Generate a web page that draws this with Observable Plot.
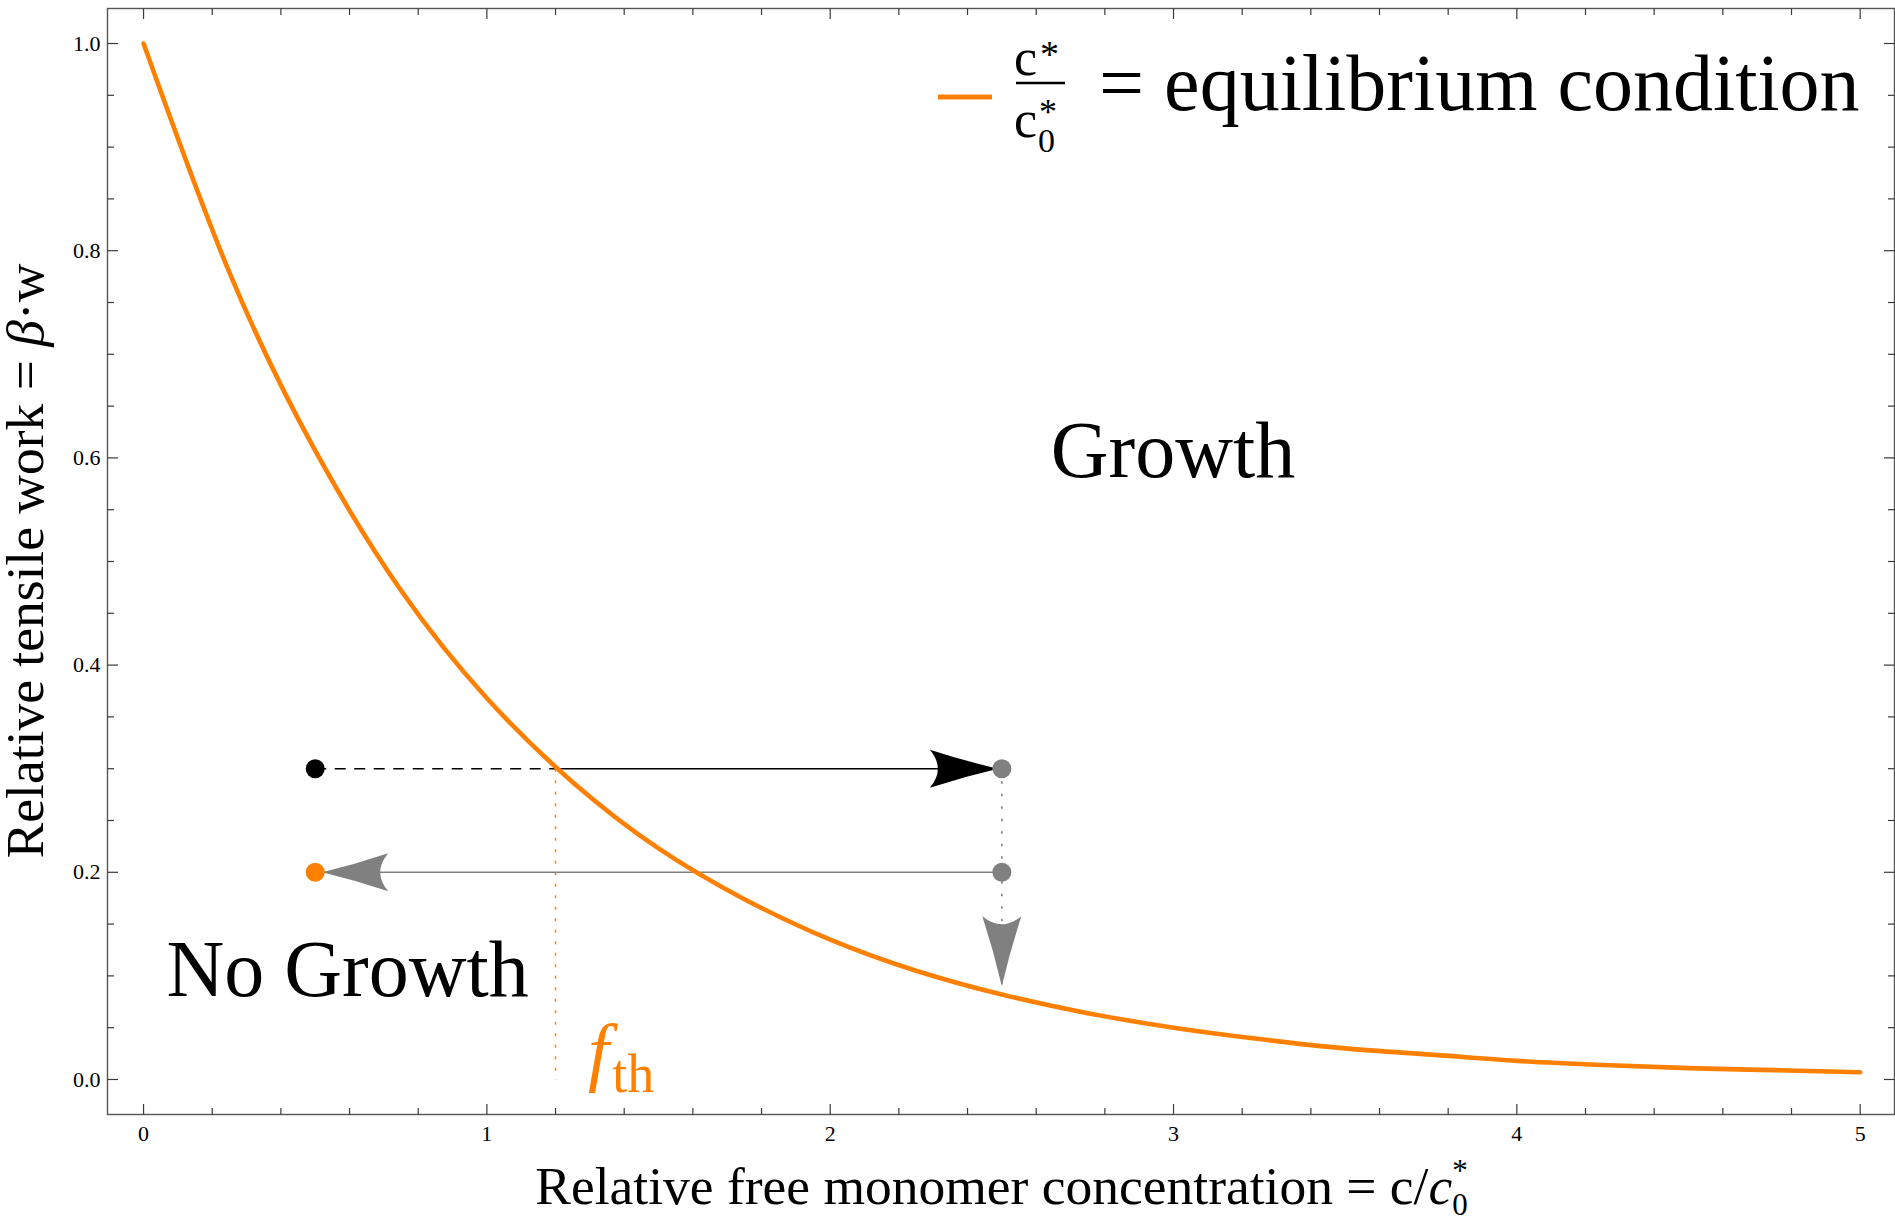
<!DOCTYPE html>
<html>
<head>
<meta charset="utf-8">
<script src="https://cdn.jsdelivr.net/npm/d3@7"></script>
<script src="https://cdn.jsdelivr.net/npm/@observablehq/plot@0.6"></script>
<style>
  html, body { margin: 0; padding: 0; background: #fff; }
  #chart svg { display: block; }
</style>
</head>
<body>
<div id="chart"></div>
<script>
// ---- Data ----
// Equilibrium curve: relative tensile work vs relative free monomer concentration
const curveConc = [0, 0.25, 0.5, 0.75, 1.0, 1.25, 1.5, 1.75, 2.0, 2.25, 2.5, 2.75, 3.0, 3.25, 3.5, 3.75, 4.0, 4.25, 4.5, 4.75, 5.0];
const curveWork = [1.000, 0.779, 0.607, 0.472, 0.368, 0.287, 0.223, 0.174, 0.135, 0.105, 0.082, 0.064, 0.050, 0.039, 0.030, 0.024, 0.018, 0.014, 0.011, 0.009, 0.007];

// Marked states (dots)
const pointConc = [0.5, 2.5, 2.5, 0.5];
const pointWork = [0.3, 0.3, 0.2, 0.2];
const pointRole = ["start", "shifted", "shifted", "stalled"];

// Threshold and drop arrow end
const thresholdConc = 1.2;   // f_th, where curve = 0.3
const thresholdWork = 0.3;
const dropEndWork = 0.09;

// Tick values
const xMajorTicks = [0, 1, 2, 3, 4, 5];
const xMinorTicks = [0.2, 0.4, 0.6, 0.8, 1.2, 1.4, 1.6, 1.8, 2.2, 2.4, 2.6, 2.8, 3.2, 3.4, 3.6, 3.8, 4.2, 4.4, 4.6, 4.8];
const yMajorTicks = [0, 0.2, 0.4, 0.6, 0.8, 1.0];
const yMinorTicks = [0.05, 0.1, 0.15, 0.25, 0.3, 0.35, 0.45, 0.5, 0.55, 0.65, 0.7, 0.75, 0.85, 0.9, 0.95];

// ---- Styling ----
const SERIF = "'Liberation Serif', 'Times New Roman', 'DejaVu Serif', serif";
const ORANGE = "#ff8000";
const GRAY = "#808080";
const roleColor = {start: "#000", shifted: GRAY, stalled: ORANGE};

const curve = curveConc.map((c, i) => ({c, w: curveWork[i]}));
const points = pointConc.map((c, i) => ({c, w: pointWork[i], role: pointRole[i]}));

// segments built from the named values
const P = points;
const dashedSeg = [{x1: P[0].c, y1: P[0].w, x2: thresholdConc, y2: thresholdWork}];
const solidBlackSeg = [{x1: thresholdConc, y1: thresholdWork, x2: P[1].c, y2: P[1].w}];
const graySeg = [{x1: P[2].c, y1: P[2].w, x2: P[3].c, y2: P[3].w}];
const grayDotSeg = [{x1: P[1].c, y1: P[1].w, x2: P[1].c, y2: dropEndWork}];
const orangeDotSeg = [{x1: thresholdConc, y1: thresholdWork, x2: thresholdConc, y2: 0}];

// custom vector shapes
const tickLine = {draw(ctx, l) { ctx.moveTo(0, 0); ctx.lineTo(0, -l); }};
function arrowhead(hw, notch) {
  return {draw(ctx, l) {
    ctx.moveTo(0, -l);
    ctx.quadraticCurveTo(hw * 0.42, -l * 0.5, hw, 0);
    ctx.quadraticCurveTo(0, -2 * notch, -hw, 0);
    ctx.quadraticCurveTo(-hw * 0.42, -l * 0.5, 0, -l);
    ctx.closePath();
  }};
}
const tickStyle = {shape: tickLine, anchor: "start", stroke: "#3a3a3a", strokeWidth: 1.2, strokeLinecap: "butt"};

function textMark(build) {
  return (index, scales, values, dims) => {
    const g = d3.create("svg:g").attr("font-family", SERIF).attr("text-anchor", "start");
    build(g, scales, dims);
    return g.node();
  };
}

const chart = Plot.plot({
  width: 1895,
  height: 1221,
  marginLeft: 107,
  marginRight: 1,
  marginTop: 8,
  marginBottom: 107,
  style: {fontFamily: SERIF, background: "#fff", color: "#000"},
  x: {domain: [-0.105, 5.1]},
  y: {domain: [-0.0338, 1.0338]},
  marks: [
    Plot.frame({stroke: "#555", strokeWidth: 1.4}),
    // ticks (inward, all four sides)
    Plot.vector(xMajorTicks, {x: d => d, frameAnchor: "bottom", rotate: 0, length: 10.5, ...tickStyle}),
    Plot.vector(xMinorTicks, {x: d => d, frameAnchor: "bottom", rotate: 0, length: 6.5, ...tickStyle}),
    Plot.vector(xMajorTicks, {x: d => d, frameAnchor: "top", rotate: 180, length: 10.5, ...tickStyle}),
    Plot.vector(xMinorTicks, {x: d => d, frameAnchor: "top", rotate: 180, length: 6.5, ...tickStyle}),
    Plot.vector(yMajorTicks, {y: d => d, frameAnchor: "left", rotate: 90, length: 10.5, ...tickStyle}),
    Plot.vector(yMinorTicks, {y: d => d, frameAnchor: "left", rotate: 90, length: 6.5, ...tickStyle}),
    Plot.vector(yMajorTicks, {y: d => d, frameAnchor: "right", rotate: -90, length: 10.5, ...tickStyle}),
    Plot.vector(yMinorTicks, {y: d => d, frameAnchor: "right", rotate: -90, length: 6.5, ...tickStyle}),
    // tick labels
    Plot.axisX(xMajorTicks, {anchor: "bottom", tickSize: 0, tickPadding: 11, fontSize: 22, label: null, tickFormat: d => String(d)}),
    Plot.axisY(yMajorTicks, {anchor: "left", tickSize: 0, tickPadding: 7, fontSize: 22, label: null, tickFormat: d => d.toFixed(1)}),

    // guide lines
    Plot.link(orangeDotSeg, {x1: "x1", y1: "y1", x2: "x2", y2: "y2", stroke: ORANGE, strokeWidth: 1.5, strokeDasharray: "3 8.5"}),
    Plot.link(grayDotSeg, {x1: "x1", y1: "y1", x2: "x2", y2: "y2", stroke: GRAY, strokeWidth: 1.6, strokeDasharray: "2.5 10"}),
    Plot.link(dashedSeg, {x1: "x1", y1: "y1", x2: "x2", y2: "y2", stroke: "#000", strokeWidth: 1.5, strokeDasharray: "11 8.5"}),
    Plot.link(solidBlackSeg, {x1: "x1", y1: "y1", x2: "x2", y2: "y2", stroke: "#000", strokeWidth: 1.5}),
    Plot.link(graySeg, {x1: "x1", y1: "y1", x2: "x2", y2: "y2", stroke: GRAY, strokeWidth: 1.6}),

    // arrowheads
    Plot.vector([P[1]], {x: "c", y: "w", rotate: 90, length: 68, anchor: "end", dx: -4, shape: arrowhead(19, 8), fill: "#000", stroke: "none"}),
    Plot.vector([P[3]], {x: "c", y: "w", rotate: -90, length: 66, anchor: "end", dx: 7, shape: arrowhead(19, 8), fill: GRAY, stroke: "none"}),
    Plot.vector([{c: P[1].c, w: dropEndWork}], {x: "c", y: "w", rotate: 180, length: 70, anchor: "end", shape: arrowhead(19.5, 8), fill: GRAY, stroke: "none"}),

    // equilibrium curve
    Plot.line(curve, {x: "c", y: "w", stroke: ORANGE, strokeWidth: 4.6, curve: "natural"}),

    // dots
    Plot.dot(points, {x: "c", y: "w", r: 9.5, fill: d => roleColor[d.role], stroke: "none"}),

    // region labels
    textMark((g, s) => {
      g.append("text").attr("x", s.x(3.0)).attr("y", s.y(0.581))
        .attr("text-anchor", "middle").attr("font-size", 80).text("Growth");
      g.append("text").attr("x", s.x(0.596)).attr("y", s.y(0.080))
        .attr("text-anchor", "middle").attr("font-size", 80).text("No Growth");
    }),

    // f_th label
    textMark((g, s) => {
      const t = g.append("text").attr("x", s.x(thresholdConc) + 33).attr("y", s.y(0) - 2)
        .attr("fill", ORANGE).attr("font-size", 76);
      t.append("tspan").attr("font-style", "italic").text("f");
      t.append("tspan").attr("font-size", 54).attr("dy", 15).attr("dx", 3).text("th");
    }),

    // axis titles
    textMark((g, s, dims) => {
      const cx = (dims.marginLeft + dims.width - dims.marginRight) / 2 + 1;
      const t = g.append("text").attr("x", cx).attr("y", 1204)
        .attr("text-anchor", "middle").attr("font-size", 53.5);
      t.append("tspan").text("Relative free monomer concentration = c/");
      t.append("tspan").attr("font-style", "italic").text("c");
      t.append("tspan").attr("font-size", 31).attr("dy", 11).text("0");
      t.append("tspan").attr("font-size", 31).attr("dx", -15.5).attr("dy", -34).text("*");

      const cy = (dims.marginTop + dims.height - dims.marginBottom) / 2;
      const ty = g.append("text").attr("transform", `translate(43,${cy}) rotate(-90)`)
        .attr("text-anchor", "middle").attr("font-size", 53.5);
      ty.append("tspan").text("Relative tensile work = ");
      ty.append("tspan").attr("font-style", "italic").text("β");
      ty.append("tspan").text("·w");
    }),

    // legend
    textMark((g) => {
      g.append("line").attr("x1", 938).attr("x2", 992).attr("y1", 97).attr("y2", 97)
        .attr("stroke", ORANGE).attr("stroke-width", 5);
      g.append("text").attr("x", 1014).attr("y", 75).attr("font-size", 52).text("c");
      g.append("text").attr("x", 1040).attr("y", 67).attr("font-size", 38).text("*");
      g.append("line").attr("x1", 1016).attr("x2", 1065).attr("y1", 83).attr("y2", 83)
        .attr("stroke", "#000").attr("stroke-width", 2.6);
      g.append("text").attr("x", 1014).attr("y", 137).attr("font-size", 52).text("c");
      g.append("text").attr("x", 1038).attr("y", 152).attr("font-size", 34).text("0");
      g.append("text").attr("x", 1039).attr("y", 124).attr("font-size", 36).text("*");
      g.append("text").attr("x", 1099).attr("y", 110).attr("font-size", 80).text("= equilibrium condition");
    })
  ]
});

document.getElementById("chart").append(chart);
</script>
</body>
</html>
